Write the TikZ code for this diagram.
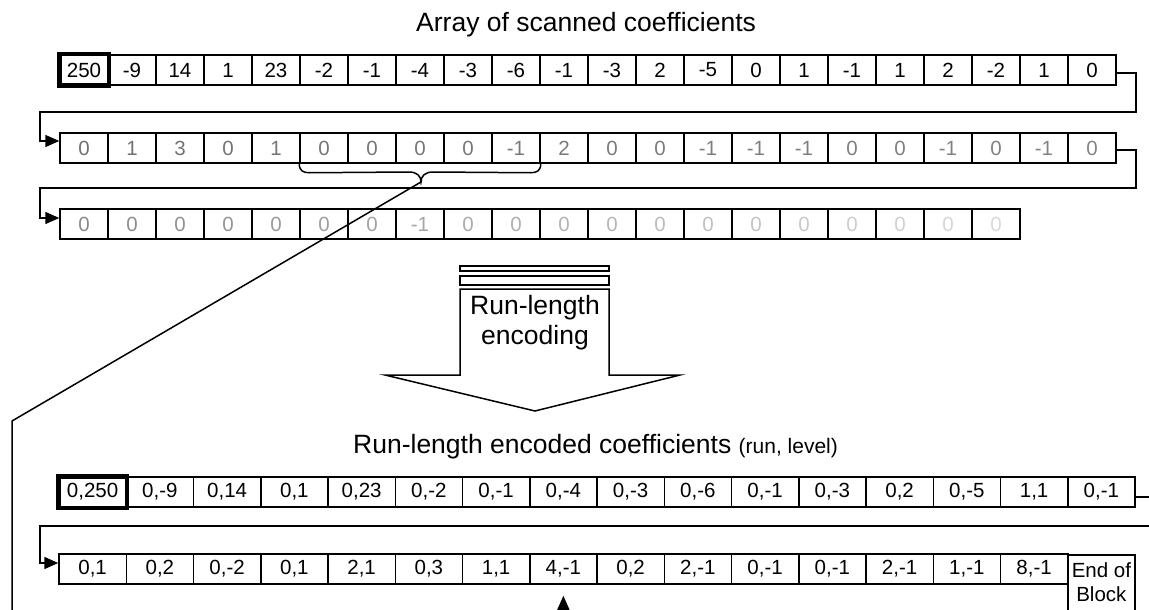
\documentclass[tikz,border=0pt]{standalone}
\usepackage{fontspec}
\setmainfont{Liberation Sans}
\usetikzlibrary{arrows.meta,calc}
\begin{document}
\begin{tikzpicture}[x=1pt,y=-1pt,
  cell/.style={draw, line width=1.5pt, minimum width=48pt, minimum height=30pt, inner sep=0pt, font=\fontsize{20.5}{24}\selectfont},
  wcell/.style={cell, minimum width=67.25pt},
  thick box/.style={line width=4.5pt},
  conn/.style={line width=1.5pt},
  arr/.style={conn, -{Triangle[length=14pt,width=12pt]}},
  title/.style={inner sep=0pt, anchor=base west, font=\fontsize{26.5}{30}\selectfont},
]
\useasboundingbox (0,0) rectangle (1149,610);

% titles
\node[title] (t1) at (416,32) {Array of scanned coefficients};
\node[title] (t2) at (353,453) {Run-length encoded coefficients {\fontsize{21}{24}\selectfont(run, level)}};

% row 1
\foreach \v [count=\i] in {250,-9,14,1,23,-2,-1,-4,-3,-6,-1,-3,2,-5,0,1,-1,1,2,-2,1,0}
  \node[cell] (a\i) at ({60+(\i-0.5)*48},70) {\v};
\draw[thick box] (a1.north west) rectangle (a1.south east);

% row 2
\foreach \v [count=\i, evaluate=\i as \g using {56-0.35*\i}] in {0,1,3,0,1,0,0,0,0,-1,2,0,0,-1,-1,-1,0,0,-1,0,-1,0}
  \node[cell, text=black!\g] (b\i) at ({60+(\i-0.5)*48},148) {\v};

% row 3
\foreach \v [count=\i, evaluate=\i as \g using {48-1.65*\i}] in {0,0,0,0,0,0,0,-1,0,0,0,0,0,0,0,0,0,0,0,0}
  \node[cell, text=black!\g] (c\i) at ({60+(\i-0.5)*48},224) {\v};

% connectors between rows
\draw[arr] ($(a22.east)+(0,3)$) -- ++(19,0) |- (40,112) |- ($(b1.west)+(0,-7)$);
\draw[arr] ($(b22.east)+(0,2)$) -- ++(19,0) |- (40,188) |- ($(c1.west)+(0,-6)$);

% brace
\coordinate (tip) at (421,182);
\draw[conn] (b6.south west) .. controls ++(0,7) and ++(-6,0) .. ++(10,9) -- ($(tip)+(-12,-10)$)
  .. controls ++(8,0) and ++(0,-6) .. (tip)
  .. controls ++(0,-6) and ++(-8,0) .. ($(tip)+(12,-10)$) -- ($(b10.south east)+(-10,9)$)
  .. controls ++(6,0) and ++(0,7) .. (b10.south east);
\coordinate (bend) at (12,421);
\coordinate (down) at (12,630);
\draw[conn] (tip) -- (bend) -- (down);

% block arrow
\draw[conn] (460,266) rectangle (609,271);
\draw[conn] (460,276) rectangle (609,285);
\draw[conn] (460,289) -- (609,289) -- (609,375) -- (680,375) -- (535,411) -- (385,375) -- (460,375) -- cycle;
\node[inner sep=0pt, align=center, font=\fontsize{26.5}{30}\selectfont] (rle) at (535,323) {Run-length\\encoding};

% bottom row 1
\foreach \v [count=\i] in {{0,250},{0,-9},{0,14},{0,1},{0,23},{0,-2},{0,-1},{0,-4},{0,-3},{0,-6},{0,-1},{0,-3},{0,2},{0,-5},{1,1},{0,-1}}
  \node[wcell] (d\i) at ({59+(\i-0.5)*67.25},492) {\v};
\draw[thick box] (d1.north west) rectangle (d1.south east);

% bottom row 2
\foreach \v [count=\i] in {{0,1},{0,2},{0,-2},{0,1},{2,1},{0,3},{1,1},{4,-1},{0,2},{2,-1},{0,-1},{0,-1},{2,-1},{1,-1},{8,-1}}
  \node[wcell] (e\i) at ({59+(\i-0.5)*67.25},569) {\v};
\node[wcell, anchor=north] (e16) at ({59+15.5*67.25},554)
  {\parbox[c][78pt][t]{66pt}{\centering\rule{0pt}{23pt}End of\\Block}};

\draw[arr] ($(d16.east)+(0,5)$) -- ++(30,0) |- (40,526) |- ($(e1.west)+(0,-6)$);
\draw[arr] ($(e8.south)+(0,35)$) -- ($(e8.south)+(0,11)$);
\end{tikzpicture}
\end{document}
